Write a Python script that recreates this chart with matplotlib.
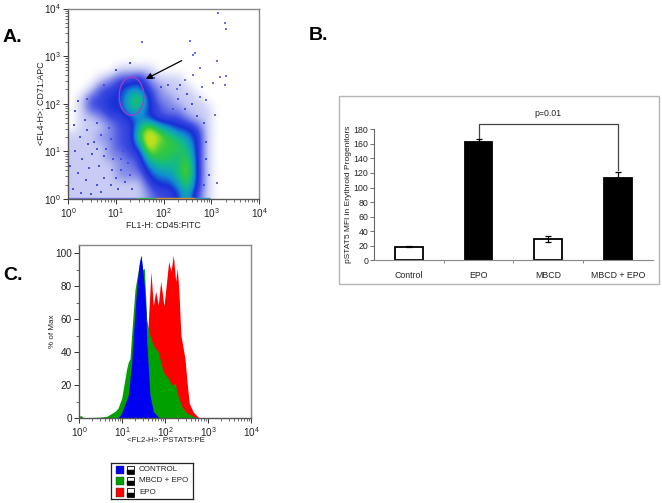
import numpy as np
import matplotlib

matplotlib.use('Agg')
import matplotlib.pyplot as plt
from matplotlib.colors import LinearSegmentedColormap
from matplotlib.patches import Rectangle
from matplotlib.ticker import LogLocator, NullFormatter, MultipleLocator

plt.rcParams['font.family'] = ['Liberation Sans', 'DejaVu Sans']
plt.rcParams['mathtext.fontset'] = 'custom'
plt.rcParams['mathtext.rm'] = 'Liberation Sans'
plt.rcParams['text.color'] = '#222222'
plt.rcParams['xtick.labelcolor'] = '#222222'
plt.rcParams['ytick.labelcolor'] = '#222222'

W, H = 662, 503

# Panel A: density, 0 = empty .. 9 = densest
# 20 x 20 cells over the four decades, top row first
density_rows = [
    [0, 0, 0, 0, 0, 0, 0, 0, 0, 0, 0, 0, 0, 0, 0, 0, 0, 0, 0, 0],
    [0, 0, 0, 0, 0, 0, 0, 0, 0, 0, 0, 0, 0, 0, 0, 0, 0, 0, 0, 0],
    [0, 0, 0, 0, 0, 0, 0, 0, 0, 0, 0, 0, 0, 0, 0, 0, 0, 0, 0, 0],
    [0, 0, 0, 0, 0, 0, 0, 0, 0, 0, 0, 0, 0, 0, 0, 0, 0, 0, 0, 0],
    [0, 0, 0, 0, 0, 0, 0, 0, 0, 0, 0, 0, 0, 0, 0, 0, 0, 0, 0, 0],
    [0, 0, 0, 0, 0, 0, 0, 0, 0, 0, 0, 0, 0, 0, 0, 0, 0, 0, 0, 0],
    [0, 0, 0, 0, 0, 1, 1, 1, 1, 0, 0, 0, 0, 0, 0, 0, 0, 0, 0, 0],
    [0, 0, 0, 1, 2, 3, 3, 4, 2, 1, 1, 1, 0, 0, 0, 0, 0, 0, 0, 0],
    [0, 0, 1, 3, 3, 4, 5, 5, 3, 2, 1, 1, 1, 0, 0, 0, 0, 0, 0, 0],
    [0, 1, 3, 3, 4, 4, 6, 7, 4, 2, 2, 1, 1, 1, 0, 0, 0, 0, 0, 0],
    [0, 1, 3, 3, 4, 4, 6, 6, 4, 3, 2, 2, 1, 1, 1, 0, 0, 0, 0, 0],
    [0, 1, 1, 2, 3, 3, 4, 5, 4, 3, 3, 3, 2, 1, 1, 0, 0, 0, 0, 0],
    [0, 1, 1, 1, 2, 3, 3, 6, 8, 6, 5, 4, 4, 3, 1, 0, 0, 0, 0, 0],
    [1, 1, 1, 2, 2, 3, 3, 7, 9, 8, 7, 6, 5, 4, 1, 0, 0, 0, 0, 0],
    [1, 1, 1, 1, 2, 3, 3, 5, 9, 7, 7, 7, 6, 4, 1, 0, 0, 0, 0, 0],
    [1, 1, 1, 1, 2, 2, 3, 3, 7, 7, 7, 6, 7, 4, 1, 0, 0, 0, 0, 0],
    [1, 1, 1, 1, 1, 2, 2, 3, 5, 6, 6, 6, 8, 4, 1, 0, 0, 0, 0, 0],
    [1, 1, 1, 1, 1, 2, 2, 2, 4, 5, 5, 6, 8, 4, 1, 0, 0, 0, 0, 0],
    [1, 1, 1, 1, 1, 1, 1, 1, 3, 4, 4, 5, 7, 4, 1, 0, 0, 0, 0, 0],
    [1, 1, 1, 1, 1, 1, 1, 1, 2, 3, 3, 4, 6, 3, 1, 0, 0, 0, 0, 0],
]
outlier_log_x = [3.15, 3.29, 3.31, 1.54, 2.55, 2.66, 3.11, 2.62, 2.76, 3.18, 3.31,
                 3.29, 3.04, 2.80, 2.62, 2.28, 2.45, 2.90, 2.76, 3.08, 3.11]
outlier_log_y = [3.90, 3.70, 3.56, 3.29, 3.31, 3.07, 2.89, 3.03, 2.75, 2.57, 2.58,
                 2.39, 2.43, 2.36, 2.61, 2.32, 2.50, 2.08, 2.15, 1.76, 0.34]
speckle_log_x = [0.12, 0.25, 0.40, 0.55, 0.70, 0.85, 0.15, 0.30, 0.50, 0.65, 0.80, 0.95, 1.10, 0.20,
                 0.38, 0.60, 0.75, 0.90, 1.05, 1.20, 0.10, 0.28, 0.48, 0.70, 1.00, 1.25, 1.15, 0.90,
                 0.35, 0.60, 0.15, 0.05, 0.45, 0.60, 0.42, 0.75, 0.92, 1.12, 1.30, 1.35, 2.30, 2.45,
                 2.60, 2.70, 2.20, 2.50, 2.35, 2.85, 2.90, 2.88, 2.95, 2.85, 1.80, 1.95, 2.10, 1.00,
                 1.30, 0.75, 0.40, 0.20]
speckle_log_y = [1.55, 1.30, 1.45, 1.20, 1.35, 1.50, 1.00, 0.85, 0.95, 0.70, 1.05, 0.85, 0.60, 0.55,
                 0.40, 0.30, 0.45, 0.30, 0.20, 0.35, 0.20, 0.12, 0.10, 0.15, 0.45, 0.75, 1.00, 1.25,
                 1.65, 1.60, 1.85, 0.70, 0.65, 1.05, 1.15, 0.90, 0.60, 0.85, 0.50, 0.20, 2.10, 1.90,
                 2.00, 1.75, 1.90, 2.20, 2.40, 1.60, 1.20, 0.85, 0.50, 0.30, 2.55, 2.35, 2.40, 2.70,
                 2.85, 2.40, 2.10, 2.05]
# events piled on the lower axis: start, end, colour
strip_starts = [0.0, 1.45, 1.85, 2.65]
strip_ends = [1.45, 1.85, 2.65, 2.98]
strip_colors = ['#7078e0', '#30c060', '#e8a030', '#30a0c0']

# Panel B
categories = ['Control', 'EPO', 'MBCD', 'MBCD + EPO']
mfi_values = [18.5, 163, 29, 113]
mfi_errors = [0.5, 3, 4.5, 8]
bar_colors = ['white', 'black', 'white', 'black']

# Panel C: histogram outlines (log10 of intensity, % of max)
red_log_x = [1.186, 1.605, 1.674, 1.728, 1.784, 1.844, 1.900, 1.977, 2.086, 2.140, 2.193,
             2.249, 2.286, 2.326, 2.349, 2.372, 2.465, 2.519, 2.565, 2.658, 2.774, 2.837]
red_pct = [0, 55, 89, 68, 77, 68.6, 83, 68, 95, 89, 99,
           83, 91, 76, 62, 50, 36, 20, 9, 3.5, 0.5, 0]
green_log_x = [0.0, 0.05, 0.1, 0.488, 0.644, 0.837, 0.907, 0.993, 1.109, 1.147, 1.186, 1.233, 1.302, 1.372,
               1.442, 1.481, 1.519, 1.574, 1.628, 1.728, 1.844, 1.960, 2.077, 2.156, 2.233, 2.309, 2.388,
               2.505, 2.698, 2.8]
green_pct = [1, 1.5, 0.2, 0.5, 1, 4, 6, 12, 30, 34, 36, 54, 78, 89,
             98.6, 90, 91, 60, 52, 44, 40, 28, 24, 20, 21, 13, 7,
             3, 0.5, 0]
blue_log_x = [0.907, 0.99, 1.147, 1.226, 1.263, 1.302, 1.342, 1.402, 1.442, 1.481, 1.519,
              1.558, 1.574, 1.651, 1.728, 1.844, 1.93]
blue_pct = [0, 3, 14, 34, 50, 64, 79, 94, 99, 90, 80, 64, 47, 14, 4, 0.6, 0]
legend_labels = ['CONTROL', 'MBCD + EPO', 'EPO']
legend_colors = ['#0000f0', '#00a000', '#ff0000']


def axes_px(left, top, right, bottom):
    return fig.add_axes([left / W, 1 - bottom / H, (right - left) / W, (bottom - top) / H])


def fx(px):
    return px / W


def fy(py):
    return 1 - py / H


def style_log_axis(axis):
    axis.set_major_locator(LogLocator(base=10, numticks=6))
    axis.set_minor_locator(LogLocator(base=10, subs=range(2, 10), numticks=6))
    axis.set_minor_formatter(NullFormatter())


fig = plt.figure(figsize=(W / 100, H / 100), dpi=100, facecolor='white')

# Panel A: smooth density below, log axes on top
cmap = LinearSegmentedColormap.from_list('flow', ['#ffffff', '#c8ccf4', '#8088ea', '#3a48e0', '#1830d8',
                                                  '#1090d0', '#10b890', '#30c840', '#b0e020', '#f8d818'])
ax_img = axes_px(68, 8.5, 259, 199)
ax_img.imshow(np.array(density_rows), extent=(0, 4, 0, 4), origin='upper', aspect='auto',
              cmap=cmap, vmin=0, vmax=9, interpolation='bicubic')
ax_img.axis('off')
ax_a = axes_px(68, 8.5, 259, 199)
ax_a.patch.set_alpha(0)
ax_a.set_xscale('log')
ax_a.set_yscale('log')
ax_a.scatter(10 ** np.array(speckle_log_x), 10 ** np.array(speckle_log_y), s=1.6, marker='s',
             color='#4a52dc', linewidths=0)
ax_a.scatter(10 ** np.array(outlier_log_x), 10 ** np.array(outlier_log_y), s=1.2, marker='s',
             color='#6a70e0', linewidths=0)
for start, end, col in zip(strip_starts, strip_ends, strip_colors):
    ax_a.plot([10 ** start, 10 ** end], [1.03, 1.03], color=col, lw=1.0, solid_capstyle='butt')
# gate drawn around the upper population
t = np.linspace(0, 2 * np.pi, 80)
ax_a.plot(10 ** (1.33 + 0.258 * np.cos(t)), 10 ** (2.16 + 0.40 * np.sin(t)), color='#a83cc8', lw=0.9)
ax_a.annotate('', xy=(10 ** 1.63, 10 ** 2.52), xytext=(10 ** 2.38, 10 ** 2.905),
              arrowprops=dict(arrowstyle='-|>', color='black', lw=0.9, mutation_scale=9, shrinkA=0, shrinkB=0))
ax_a.set_xlim(1, 1e4)
ax_a.set_ylim(1, 1e4)

# Panel C
ax_c = axes_px(79, 245.3, 251, 418)
ax_c.set_xscale('log')
ax_c.fill_between(10 ** np.array(red_log_x), red_pct, color=legend_colors[2], lw=0)
ax_c.fill_between(10 ** np.array(green_log_x), green_pct, color=legend_colors[1], lw=0)
ax_c.fill_between(10 ** np.array(blue_log_x), blue_pct, color=legend_colors[0], lw=0)
ax_c.set_xlim(1, 1e4)
ax_c.set_ylim(0, 104.9)
ax_c.set_yticks(range(0, 101, 20))
ax_c.yaxis.set_minor_locator(MultipleLocator(10))

for ax in (ax_a, ax_c):
    style_log_axis(ax.xaxis)
    if ax is ax_a:
        style_log_axis(ax.yaxis)
    ax.tick_params(which='major', length=3.5, width=0.7, labelsize=7.2, pad=1.5, color='#333333')
    ax.tick_params(which='minor', length=2, width=0.5, color='#333333')
    for side, spine in ax.spines.items():
        spine.set_linewidth(1.0)
        spine.set_color('#555555' if side in ('left', 'bottom') else '#888888')

# Panel B frame, kept behind the axes
fig.add_artist(Rectangle((fx(339), fy(284)), 320 / W, 188.3 / H, transform=fig.transFigure,
                         facecolor='white', edgecolor='#b4b4b4', lw=1, zorder=-1))
ax_b = axes_px(374, 129.3, 652.7, 260.3)
ax_b.patch.set_alpha(0)
pos = np.arange(len(categories))
ax_b.bar(pos, mfi_values, width=0.4, color=bar_colors, edgecolor='black', lw=1.3)
ax_b.errorbar(pos, mfi_values, yerr=mfi_errors, fmt='none', ecolor='black', elinewidth=0.9, capsize=2.5, capthick=0.9)
ax_b.set_xlim(-0.5, 3.5)
ax_b.set_ylim(0, 180)
ax_b.set_yticks(range(0, 181, 20))
ax_b.set_xticks(pos)
ax_b.set_xticklabels(categories)
ax_b.set_xticks(pos[:-1] + 0.5, minor=True)
ax_b.tick_params(axis='x', which='major', length=0, labelsize=6.3, pad=8)
ax_b.tick_params(axis='x', which='minor', length=2, width=0.6, color='#777777')
ax_b.tick_params(axis='y', length=3, width=0.6, color='#555555', labelsize=6.3, pad=1)
ax_b.spines['top'].set_visible(False)
ax_b.spines['right'].set_visible(False)
ax_b.spines['left'].set_color('#666666')
ax_b.spines['bottom'].set_color('#888888')
ax_b.plot([1, 1, 3, 3], [167.6, 187, 187, 124], color='#444444', lw=0.9, clip_on=False)
ax_b.text(2, 202, 'p=0.01', ha='center', va='center', fontsize=6.3, clip_on=False)

# Legend of panel C
ax_l = axes_px(111.3, 462.7, 193.3, 499.3)
ax_l.set_xlim(111.3, 193.3)
ax_l.set_ylim(499.3, 462.7)
ax_l.set_xticks([])
ax_l.set_yticks([])
for spine in ax_l.spines.values():
    spine.set_linewidth(0.9)
    spine.set_color('#222222')
for yc, name, col in zip([469.7, 481, 492.3], legend_labels, legend_colors):
    ax_l.add_patch(Rectangle((116, yc - 4.2), 8.5, 8.5, facecolor=col, edgecolor='#333333', lw=0.3))
    ax_l.add_patch(Rectangle((126.7, yc - 4.2), 7.3, 8.5, facecolor='white', edgecolor='black', lw=0.6))
    ax_l.add_patch(Rectangle((126.7, yc + 0.2), 7.3, 4.1, facecolor='black', edgecolor='black', lw=0.3))
    ax_l.text(139, yc, name, va='center', ha='left', fontsize=5.8)

# Axis labels and panel letters
fig.text(fx(163), fy(226), 'FL1-H: CD45:FITC', ha='center', va='center', fontsize=6.4)
fig.text(fx(41), fy(103), '<FL4-H>: CD71:APC', ha='center', va='center', rotation=90, fontsize=6.4)
fig.text(fx(165.7), fy(441), '<FL2-H>: PSTAT5:PE', ha='center', va='center', fontsize=5.8)
fig.text(fx(53), fy(331), '% of Max', ha='center', va='center', rotation=90, fontsize=5.8)
fig.text(fx(349), fy(194), 'pSTAT5 MFI in Erythroid Progenitors', ha='center', va='center', rotation=90, fontsize=6.0)
fig.text(fx(3), fy(42), 'A.', fontsize=14, fontweight='bold', va='baseline', color='black')
fig.text(fx(309), fy(40), 'B.', fontsize=14, fontweight='bold', va='baseline', color='black')
fig.text(fx(3), fy(280), 'C.', fontsize=14, fontweight='bold', va='baseline', color='black')

fig.savefig('out.png', dpi=100)
